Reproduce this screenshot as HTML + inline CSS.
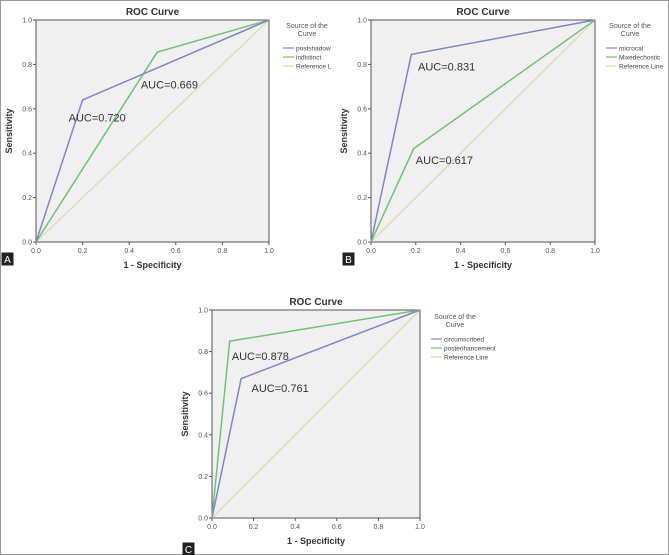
<!DOCTYPE html>
<html><head><meta charset="utf-8">
<style>
body{margin:0;background:#fff;}
#wrap{position:relative;width:669px;height:555px;overflow:hidden;font-family:"Liberation Sans",sans-serif;}
svg{position:absolute;left:0;top:0;}
</style></head>
<body>
<div id="wrap">
<svg id="svg" width="669" height="555"></svg>
</div>
<script>
const ticks=[0,0.2,0.4,0.6,0.8,1.0];
const tickLabels=["0.0","0.2","0.4","0.6","0.8","1.0"];
// Panel A
const aNames=["postshadow","indistinct","Reference L"];
const aS1x=[0,0.2,1], aS1y=[0,0.64,1];
const aS2x=[0,0.52,1], aS2y=[0,0.855,1];
const aAuc=["AUC=0.720","AUC=0.669"], aAucX=[0.14,0.45], aAucY=[0.56,0.71];
// Panel B
const bNames=["microcal","Mixedechostic","Reference Line"];
const bS1x=[0,0.18,1], bS1y=[0,0.845,1];
const bS2x=[0,0.19,1], bS2y=[0,0.42,1];
const bAuc=["AUC=0.831","AUC=0.617"], bAucX=[0.21,0.2], bAucY=[0.79,0.37];
// Panel C
const cNames=["circumscribed","posterihancement","Reference Line"];
const cS1x=[0,0.14,1], cS1y=[0,0.67,1];
const cS2x=[0,0.085,1], cS2y=[0,0.85,1];
const cAuc=["AUC=0.878","AUC=0.761"], cAucX=[0.095,0.19], cAucY=[0.78,0.625];

const NS="http://www.w3.org/2000/svg";
const svg=document.getElementById('svg');
function mk(tag,attrs,parent,text){const e=document.createElementNS(NS,tag);for(const k in attrs)e.setAttribute(k,attrs[k]);if(text!==undefined)e.textContent=text;(parent||svg).appendChild(e);return e;}
const BLUE="#7f86cc",GREEN="#72c276",REF="#d9d9aa";

function panel(id,L,T,W,H,names,s1x,s1y,s2x,s2y,auc,aucX,aucY,letter,lx,ly,legX,legY){
  const g=mk('g',{});
  
  
  const X=v=>L+v*W, Y=v=>T+H-v*H;
  const bg=mk('rect',{x:L,y:T,width:W,height:H,fill:'#f0f0f0',stroke:'#555','stroke-width':1},g);
  
  
  const t=mk('text',{x:L+W/2,y:T-5,'text-anchor':'middle','font-size':10,'font-weight':'bold',fill:'#333'},g,'ROC Curve');
  
  
  ticks.forEach((v,i)=>{
    mk('line',{x1:L-3,x2:L,y1:Y(v),y2:Y(v),stroke:'#555'},g);
    mk('line',{x1:X(v),x2:X(v),y1:T+H,y2:T+H+3,stroke:'#555'},g);
    const yl=mk('text',{x:L-4,y:Y(v)+2.5,'text-anchor':'end','font-size':7,fill:'#555'},g,tickLabels[i]);
    
    
    const xl=mk('text',{x:X(v),y:T+H+11,'text-anchor':'middle','font-size':7,fill:'#555'},g,tickLabels[i]);
    
    
  });
  const xt=mk('text',{x:L+W/2,y:T+H+26,'text-anchor':'middle','font-size':9,'font-weight':'bold',fill:'#333'},g,'1 - Specificity');
  
  
  const yt=mk('text',{x:0,y:0,'text-anchor':'middle','font-size':9,'font-weight':'bold',fill:'#333',transform:`translate(${L-24},${T+H/2}) rotate(-90)`},g,'Sensitivity');
  
  
  const ref=mk('line',{x1:X(0),y1:Y(0),x2:X(1),y2:Y(1),stroke:REF,'stroke-width':1.2},g);
  
  
  const p2=mk('polyline',{points:s2x.map((v,i)=>X(v)+','+Y(s2y[i])).join(' '),fill:'none',stroke:GREEN,'stroke-width':1.5},g);
  
  
  const p1=mk('polyline',{points:s1x.map((v,i)=>X(v)+','+Y(s1y[i])).join(' '),fill:'none',stroke:BLUE,'stroke-width':1.5},g);
  
  
  auc.forEach((s,i)=>{
    const a=mk('text',{x:X(aucX[i]),y:Y(aucY[i])+4,'font-size':11,fill:'#333'},g,s);
    
    
  });
  const lg=mk('g',{},g);
  
  
  mk('text',{x:legX+24,y:legY,'text-anchor':'middle','font-size':7,fill:'#555'},lg,'Source of the');
  mk('text',{x:legX+24,y:legY+8,'text-anchor':'middle','font-size':7,fill:'#555'},lg,'Curve');
  [BLUE,GREEN,REF].forEach((c,i)=>{
    const yy=legY+20+i*9;
    const e=mk('g',{},lg);
    
    
    mk('line',{x1:legX,x2:legX+11,y1:yy,y2:yy,stroke:c,'stroke-width':1.2},e);
    mk('text',{x:legX+13,y:yy+2.5,'font-size':6.5,fill:'#444'},e,names[i]);
  });
  const lb=mk('g',{},g);
  
  
  mk('rect',{x:lx,y:ly,width:11,height:12,fill:'#222',stroke:'#222'},lb);
  mk('text',{x:lx+5.5,y:ly+10,'text-anchor':'middle','font-size':10,fill:'#fff'},lb,letter);
}
mk('rect',{x:0.5,y:0.5,width:668,height:554,fill:'none',stroke:'#999'});
panel('a',36,20,233,222,aNames,aS1x,aS1y,aS2x,aS2y,aAuc,aAucX,aAucY,'A',2,253,283,28);
panel('b',371,20,224,222,bNames,bS1x,bS1y,bS2x,bS2y,bAuc,bAucX,bAucY,'B',343,253,606,28);
panel('c',212,310,208,208,cNames,cS1x,cS1y,cS2x,cS2y,cAuc,cAucX,cAucY,'C',183,543,431,319);
</script>
</body></html>
